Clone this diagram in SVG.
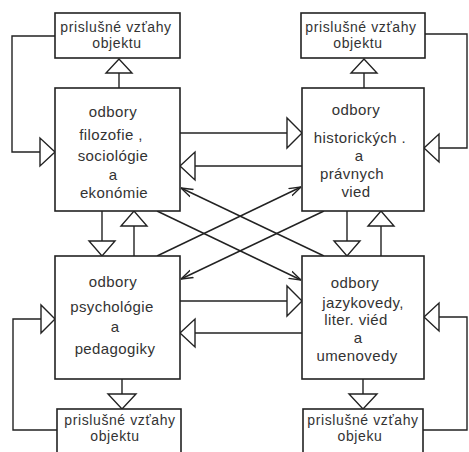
<svg xmlns="http://www.w3.org/2000/svg" width="469" height="452" viewBox="0 0 469 452">
<style>
.box{fill:#fff;stroke:#222;stroke-width:1.6}
.ln{fill:none;stroke:#222;stroke-width:1.4}
.tri{fill:#fff;stroke:#222;stroke-width:1.4;stroke-linejoin:miter}
text{font-family:"Liberation Sans",Arial,sans-serif;font-size:15px;fill:#333;text-anchor:middle;letter-spacing:0.4px}
text.s{font-size:14px;letter-spacing:0.6px}
</style>
<defs>
<marker id="v" viewBox="0 0 12 10" refX="12" refY="5" markerWidth="12" markerHeight="10" markerUnits="userSpaceOnUse" orient="auto">
<path d="M0,1 L12,5 L0,9" fill="none" stroke="#222" stroke-width="1.4"/>
</marker>
</defs>
<rect width="469" height="452" fill="#fff"/>
<g id="connectors">
<path class="ln" d="M119,88 V73"/><polygon class="tri" points="106,73 132,73 119,59"/>
<path class="ln" d="M364,88 V73"/><polygon class="tri" points="351,73 377,73 364,59"/>
<path class="ln" d="M55,36 H12 V152 H40"/><polygon class="tri" points="40,138 40,166 55,152"/>
<path class="ln" d="M425,34 H467 V148 H439"/><polygon class="tri" points="439,134 439,162 424,148"/>
<path class="ln" d="M180,133 H287"/><polygon class="tri" points="287,118 287,148 302,133"/>
<path class="ln" d="M302,166 H195"/><polygon class="tri" points="195,152 195,180 180,166"/>
<path class="ln" d="M102,211 V241"/><polygon class="tri" points="89,241 115,241 102,256"/>
<path class="ln" d="M134,256 V226"/><polygon class="tri" points="121,226 147,226 134,211"/>
<path class="ln" d="M347,211 V241"/><polygon class="tri" points="334,241 360,241 347,256"/>
<path class="ln" d="M381,256 V226"/><polygon class="tri" points="368,226 394,226 381,211"/>
<path class="ln" d="M180,301 H287"/><polygon class="tri" points="287,286 287,316 302,301"/>
<path class="ln" d="M302,333 H195"/><polygon class="tri" points="195,319 195,347 180,333"/>
<path class="ln" d="M122,379 V394"/><polygon class="tri" points="108,394 136,394 122,409"/>
<path class="ln" d="M363,379 V394"/><polygon class="tri" points="349,394 377,394 363,409"/>
<path class="ln" d="M57,430 H13 V319 H41"/><polygon class="tri" points="41,305 41,333 55,319"/>
<path class="ln" d="M423,430 H467 V317 H439"/><polygon class="tri" points="439,303 439,331 424,317"/>
<path class="ln" d="M324,256 L181,188" marker-end="url(#v)"/>
<path class="ln" d="M157,211 L301,280" marker-end="url(#v)"/>
<path class="ln" d="M157,256 L301,187" marker-end="url(#v)"/>
<path class="ln" d="M324,211 L181,279" marker-end="url(#v)"/>
</g>
<g id="tl-rel">
<rect class="box" x="55" y="13" width="125" height="45"/>
<text class="s" x="116" y="31.5">prislušné vzťahy</text>
<text class="s" x="117" y="48">objektu</text>
</g>
<g id="tr-rel">
<rect class="box" x="301" y="13" width="124" height="45"/>
<text class="s" x="361" y="31.5">prislušné vzťahy</text>
<text class="s" x="358" y="48">objektu</text>
</g>
<g id="bl-rel">
<rect class="box" x="57" y="409" width="124" height="50"/>
<text class="s" x="120" y="424.5">prislušné vzťahy</text>
<text class="s" x="115" y="441">objektu</text>
</g>
<g id="br-rel">
<rect class="box" x="303" y="409" width="120" height="50"/>
<text class="s" x="363" y="424.5">prislušné vzťahy</text>
<text class="s" x="360" y="441">objeku</text>
</g>
<g id="filozofie">
<rect class="box" x="55" y="88" width="125" height="123"/>
<text x="113" y="117">odbory</text>
<text x="111" y="140">filozofie ,</text>
<text x="113" y="161">sociológie</text>
<text x="113" y="180">a</text>
<text x="114" y="197.5">ekonómie</text>
</g>
<g id="historickych">
<rect class="box" x="302" y="88" width="122" height="123"/>
<text x="356" y="115">odbory</text>
<text x="360" y="143">historických .</text>
<text x="359" y="161">a</text>
<text x="352" y="179">právnych</text>
<text x="356" y="196.5">vied</text>
</g>
<g id="psychologie">
<rect class="box" x="55" y="256" width="125" height="123"/>
<text x="113" y="287">odbory</text>
<text x="112" y="312">psychológie</text>
<text x="115" y="332">a</text>
<text x="115" y="354">pedagogiky</text>
</g>
<g id="jazykovedy">
<rect class="box" x="302" y="256" width="122" height="123"/>
<text x="355" y="288">odbory</text>
<text x="363" y="307.5">jazykovedy,</text>
<text x="356" y="325">liter. viéd</text>
<text x="358" y="343">a</text>
<text x="357" y="361">umenovedy</text>
</g>
</svg>
